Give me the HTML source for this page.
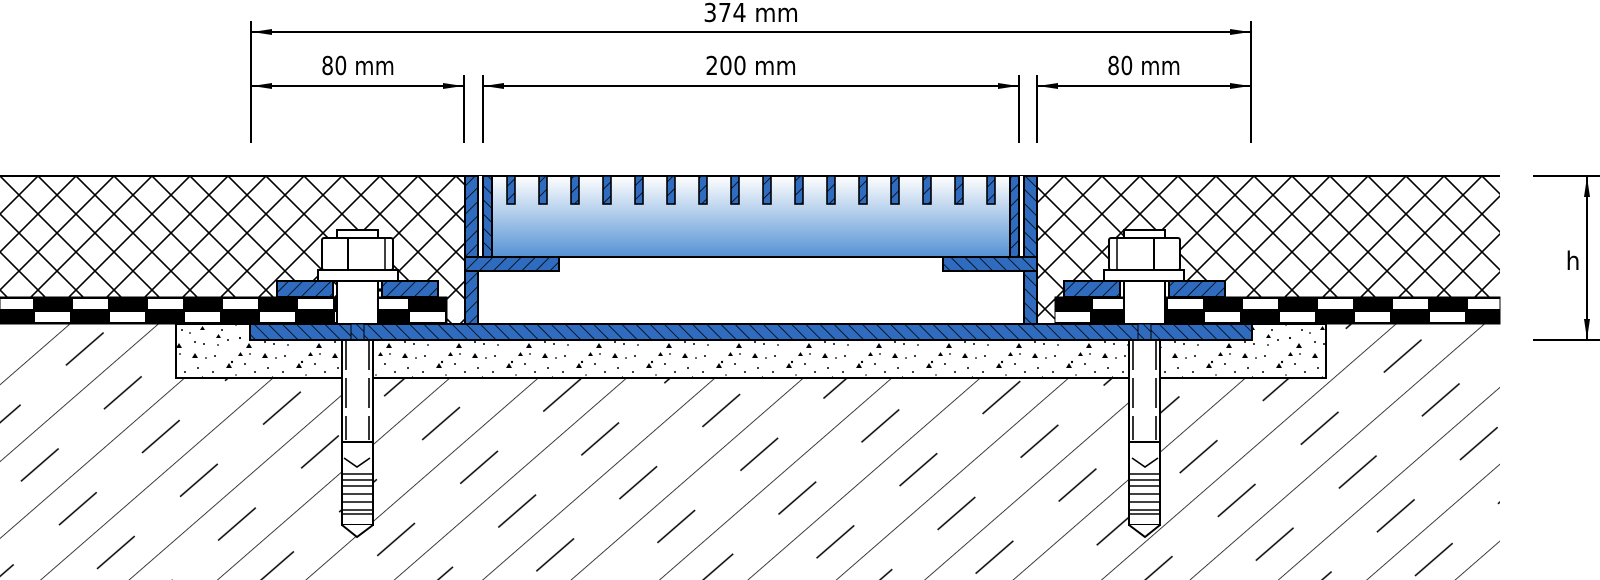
<!DOCTYPE html>
<html><head><meta charset="utf-8">
<style>html,body{margin:0;padding:0;background:#fff}svg{display:block}</style>
</head><body>
<svg width="1600" height="580" viewBox="0 0 1600 580" xmlns="http://www.w3.org/2000/svg">
<defs>
  <pattern id="xh" width="38" height="38" patternUnits="userSpaceOnUse" x="0" y="176">
    <path d="M0,0 L38,38 M38,0 L0,38 M-19,19 L19,57 M19,-19 L57,19 M-19,19 L19,-19 M19,57 L57,19" stroke="#000" stroke-width="1.6" fill="none"/>
  </pattern>
  <pattern id="bhA" width="10" height="10" patternUnits="userSpaceOnUse" patternTransform="rotate(45)">
    <rect width="10" height="10" fill="#2f6cc0"/><line x1="0" y1="0" x2="0" y2="10" stroke="#000" stroke-width="1.6"/>
  </pattern>
  <pattern id="bhB" width="10" height="10" patternUnits="userSpaceOnUse" patternTransform="rotate(-45)">
    <rect width="10" height="10" fill="#2f6cc0"/><line x1="0" y1="0" x2="0" y2="10" stroke="#000" stroke-width="1.6"/>
  </pattern>
  <pattern id="gr" width="220" height="58" patternUnits="userSpaceOnUse" patternTransform="rotate(-41)">
    <line x1="0" y1="0" x2="220" y2="0" stroke="#000" stroke-width="1.6"/>
    <line x1="30" y1="29" x2="80" y2="29" stroke="#000" stroke-width="1.6"/>
    <line x1="140" y1="29" x2="190" y2="29" stroke="#000" stroke-width="1.6"/>
  </pattern>
  <pattern id="cc" width="70" height="50" patternUnits="userSpaceOnUse">
    <rect width="70" height="50" fill="#fff"/>
    <g fill="#000">
      <circle cx="5" cy="6" r="1"/><circle cx="22" cy="12" r="1.2"/><circle cx="40" cy="4" r="0.9"/><circle cx="58" cy="18" r="1"/>
      <circle cx="12" cy="30" r="1"/><circle cx="30" cy="38" r="1.1"/><circle cx="50" cy="33" r="0.9"/><circle cx="64" cy="44" r="1"/>
      <circle cx="8" cy="45" r="0.9"/><circle cx="45" cy="22" r="1"/><circle cx="26" cy="25" r="0.8"/>
      <circle cx="35" cy="14" r="1"/><circle cx="66" cy="8" r="0.9"/><circle cx="18" cy="40" r="1"/><circle cx="55" cy="42" r="1"/>
      <circle cx="3" cy="22" r="1"/><circle cx="42" cy="30" r="1"/>
      <path d="M16,18 l3,-5 l3,5z"/><path d="M52,8 l3,-5 l3,5z"/><path d="M36,48 l3,-5 l3,5z"/><path d="M60,30 l2.5,-4 l2.5,4z"/>
      <path d="M6,38 l2.5,-4 l2.5,4z"/><path d="M28,6 l2.5,-4 l2.5,4z"/>
    </g>
  </pattern>
  <pattern id="ckL" width="75" height="27" patternUnits="userSpaceOnUse" x="73" y="297">
    <rect width="75" height="27" fill="#000"/>
    <rect x="0" y="2" width="35" height="10" fill="#fff"/>
    <rect x="37" y="15" width="35" height="10" fill="#fff"/>
  </pattern>
  <pattern id="ckR" width="75" height="27" patternUnits="userSpaceOnUse" x="1318" y="297">
    <rect width="75" height="27" fill="#000"/>
    <rect x="0" y="2" width="35" height="10" fill="#fff"/>
    <rect x="37" y="15" width="35" height="10" fill="#fff"/>
  </pattern>
  <linearGradient id="gg" x1="0" y1="0" x2="0" y2="1">
    <stop offset="0" stop-color="#ffffff"/><stop offset="1" stop-color="#5592d4"/>
  </linearGradient>
  <marker id="ar" viewBox="0 0 20 6" refX="20" refY="3" markerWidth="20" markerHeight="6" markerUnits="userSpaceOnUse" orient="auto-start-reverse">
    <path d="M0,0 L20,3 L0,6z" fill="#000"/>
  </marker>
</defs>

<rect x="0" y="324" width="1500" height="256" fill="url(#gr)"/>
<rect x="0" y="176" width="1500" height="148" fill="url(#xh)"/>
<line x1="0" y1="176" x2="1500" y2="176" stroke="#000" stroke-width="2"/>
<rect x="0" y="297" width="447" height="27" fill="url(#ckL)" stroke="#000" stroke-width="1"/>
<rect x="1055" y="297" width="445" height="27" fill="url(#ckR)" stroke="#000" stroke-width="1"/>
<rect x="176" y="324" width="1150" height="54" fill="url(#cc)" stroke="#000" stroke-width="2"/>
<rect x="478" y="176" width="546" height="148" fill="#fff"/>
<rect x="250" y="324" width="1002" height="16" fill="url(#bhB)" stroke="#000" stroke-width="2"/>
<rect x="465" y="176" width="13" height="148" fill="url(#bhA)" stroke="#000" stroke-width="2"/>
<rect x="1024" y="176" width="13" height="148" fill="url(#bhB)" stroke="#000" stroke-width="2"/>
<rect x="465" y="257" width="94" height="14" fill="url(#bhA)" stroke="#000" stroke-width="2"/>
<rect x="943" y="257" width="94" height="14" fill="url(#bhB)" stroke="#000" stroke-width="2"/>
<rect x="492" y="176" width="518" height="81" fill="url(#gg)" stroke="#000" stroke-width="2"/>
<rect x="483" y="176" width="9" height="81" fill="url(#bhB)" stroke="#000" stroke-width="2"/>
<rect x="1010" y="176" width="9" height="81" fill="url(#bhA)" stroke="#000" stroke-width="2"/>
<g fill="url(#bhA)" stroke="#000" stroke-width="1.6">
  <rect x="507" y="176" width="8" height="28"/><rect x="539" y="176" width="8" height="28"/><rect x="571" y="176" width="8" height="28"/><rect x="603" y="176" width="8" height="28"/>
  <rect x="635" y="176" width="8" height="28"/><rect x="667" y="176" width="8" height="28"/><rect x="699" y="176" width="8" height="28"/><rect x="731" y="176" width="8" height="28"/>
  <rect x="763" y="176" width="8" height="28"/><rect x="795" y="176" width="8" height="28"/><rect x="827" y="176" width="8" height="28"/><rect x="859" y="176" width="8" height="28"/>
  <rect x="891" y="176" width="8" height="28"/><rect x="923" y="176" width="8" height="28"/><rect x="955" y="176" width="8" height="28"/><rect x="987" y="176" width="8" height="28"/>
</g>

<g transform="translate(357,0)">
  <rect x="-80" y="281" width="56" height="16" fill="url(#bhA)" stroke="#000" stroke-width="2"/>
  <rect x="25" y="281" width="56" height="16" fill="url(#bhA)" stroke="#000" stroke-width="2"/>
  <rect x="-20" y="281" width="41" height="43" fill="#fff" stroke="#000" stroke-width="2"/>
  <rect x="-39" y="270" width="80" height="11" fill="#fff" stroke="#000" stroke-width="2"/>
  <rect x="-35" y="238" width="71" height="32" fill="#fff" stroke="#000" stroke-width="2" rx="2"/>
  <line x1="-9" y1="238" x2="-9" y2="270" stroke="#000" stroke-width="2"/>
  <line x1="28" y1="238" x2="28" y2="270" stroke="#000" stroke-width="1.5"/>
  <rect x="-20" y="230" width="41" height="8" fill="#fff" stroke="#000" stroke-width="2"/>
  <rect x="-6" y="324" width="13" height="16" fill="url(#bhB)" stroke="#000" stroke-width="1"/>
  <rect x="-15" y="340" width="31" height="185" fill="#fff" stroke="#000" stroke-width="2"/>
  <path d="M-15,525 L0,537 L16,525" fill="#fff" stroke="#000" stroke-width="2"/>
  <line x1="-11" y1="340" x2="-11" y2="440" stroke="#000" stroke-width="1.6" stroke-dasharray="30,8"/>
  <line x1="12" y1="340" x2="12" y2="440" stroke="#000" stroke-width="1.6" stroke-dasharray="30,8"/>
  <line x1="-15" y1="442" x2="16" y2="442" stroke="#000" stroke-width="2"/>
  <path d="M-13,458 L0,467 L13,458" fill="none" stroke="#000" stroke-width="1.6"/>
  <g stroke="#000" stroke-width="1.6"><line x1="-15" y1="474" x2="16" y2="474"/><line x1="-15" y1="480" x2="16" y2="480"/><line x1="-15" y1="486" x2="16" y2="486"/><line x1="-15" y1="494" x2="16" y2="494"/><line x1="-15" y1="502" x2="16" y2="502"/><line x1="-15" y1="510" x2="16" y2="510"/><line x1="-15" y1="514" x2="16" y2="514"/></g>
</g>
<g transform="translate(1145,0) scale(-1,1)">
  <rect x="-80" y="281" width="56" height="16" fill="url(#bhB)" stroke="#000" stroke-width="2"/>
  <rect x="25" y="281" width="56" height="16" fill="url(#bhB)" stroke="#000" stroke-width="2"/>
  <rect x="-20" y="281" width="41" height="43" fill="#fff" stroke="#000" stroke-width="2"/>
  <rect x="-39" y="270" width="80" height="11" fill="#fff" stroke="#000" stroke-width="2"/>
  <rect x="-35" y="238" width="71" height="32" fill="#fff" stroke="#000" stroke-width="2" rx="2"/>
  <line x1="-9" y1="238" x2="-9" y2="270" stroke="#000" stroke-width="2"/>
  <line x1="28" y1="238" x2="28" y2="270" stroke="#000" stroke-width="1.5"/>
  <rect x="-20" y="230" width="41" height="8" fill="#fff" stroke="#000" stroke-width="2"/>
  <rect x="-6" y="324" width="13" height="16" fill="url(#bhA)" stroke="#000" stroke-width="1"/>
  <rect x="-15" y="340" width="31" height="185" fill="#fff" stroke="#000" stroke-width="2"/>
  <path d="M-15,525 L0,537 L16,525" fill="#fff" stroke="#000" stroke-width="2"/>
  <line x1="-11" y1="340" x2="-11" y2="440" stroke="#000" stroke-width="1.6" stroke-dasharray="30,8"/>
  <line x1="12" y1="340" x2="12" y2="440" stroke="#000" stroke-width="1.6" stroke-dasharray="30,8"/>
  <line x1="-15" y1="442" x2="16" y2="442" stroke="#000" stroke-width="2"/>
  <path d="M-13,458 L0,467 L13,458" fill="none" stroke="#000" stroke-width="1.6"/>
  <g stroke="#000" stroke-width="1.6"><line x1="-15" y1="474" x2="16" y2="474"/><line x1="-15" y1="480" x2="16" y2="480"/><line x1="-15" y1="486" x2="16" y2="486"/><line x1="-15" y1="494" x2="16" y2="494"/><line x1="-15" y1="502" x2="16" y2="502"/><line x1="-15" y1="510" x2="16" y2="510"/><line x1="-15" y1="514" x2="16" y2="514"/></g>
</g>

<g stroke="#000" stroke-width="2" fill="none">
  <line x1="251" y1="21" x2="251" y2="143"/>
  <line x1="1251" y1="21" x2="1251" y2="143"/>
  <line x1="464" y1="75" x2="464" y2="143"/>
  <line x1="483" y1="75" x2="483" y2="143"/>
  <line x1="1019" y1="75" x2="1019" y2="143"/>
  <line x1="1037" y1="75" x2="1037" y2="143"/>
  <line x1="252" y1="32" x2="1250" y2="32" marker-start="url(#ar)" marker-end="url(#ar)"/>
  <line x1="252" y1="86" x2="463" y2="86" marker-start="url(#ar)" marker-end="url(#ar)"/>
  <line x1="484" y1="86" x2="1018" y2="86" marker-start="url(#ar)" marker-end="url(#ar)"/>
  <line x1="1038" y1="86" x2="1250" y2="86" marker-start="url(#ar)" marker-end="url(#ar)"/>
  <line x1="1533" y1="176" x2="1600" y2="176"/>
  <line x1="1533" y1="340" x2="1600" y2="340"/>
  <line x1="1587" y1="177" x2="1587" y2="339" marker-start="url(#ar)" marker-end="url(#ar)"/>
</g>
<g font-family="'DejaVu Sans Condensed','DejaVu Sans','Liberation Sans',sans-serif" font-size="26" fill="#000" text-anchor="middle">
  <text x="751" y="22" textLength="96" lengthAdjust="spacingAndGlyphs">374 mm</text>
  <text x="358" y="75" textLength="74" lengthAdjust="spacingAndGlyphs">80 mm</text>
  <text x="751" y="75" textLength="92" lengthAdjust="spacingAndGlyphs">200 mm</text>
  <text x="1144" y="75" textLength="74" lengthAdjust="spacingAndGlyphs">80 mm</text>
  <text x="1573" y="270">h</text>
</g>
</svg>
</body></html>
